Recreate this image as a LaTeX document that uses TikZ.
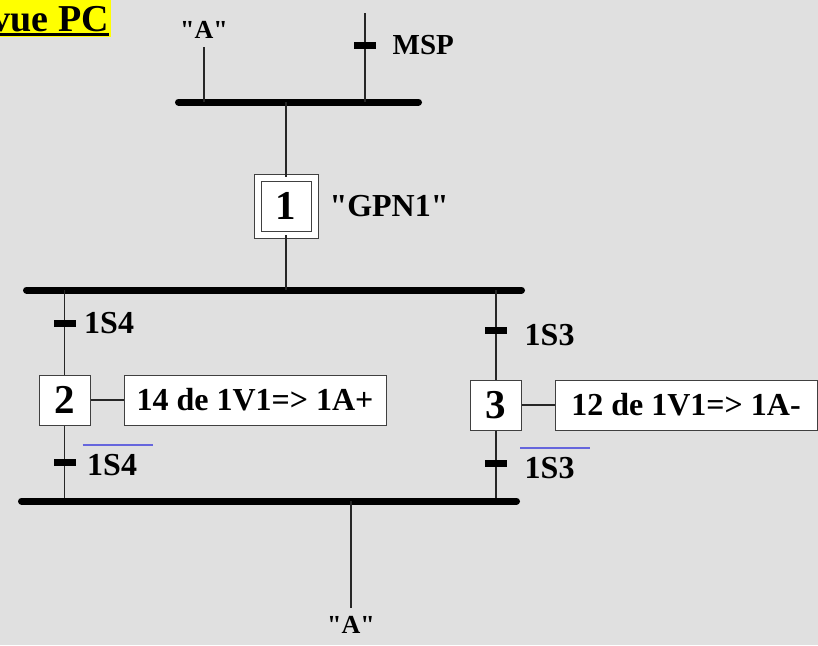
\documentclass[tikz,border=0pt]{standalone}
\usepackage{fontspec}
\setmainfont{Liberation Serif}[Ligatures=TeXOff]
\usetikzlibrary{positioning}
\definecolor{pagebg}{RGB}{224,224,224}
\definecolor{negblue}{RGB}{102,102,221}
\definecolor{titleyellow}{RGB}{255,255,0}
\newcommand{\lblfont}{\fontsize{32}{34}\selectfont\bfseries}

\begin{document}
\begin{tikzpicture}[x=1pt,y=-1pt,
  link/.style={black!85,line width=1.3pt},
  bar/.style={line width=7pt,line cap=round},
  tick/.style={rectangle,fill=black,minimum width=22pt,minimum height=7pt,inner sep=0pt},
  stepbox/.style={rectangle,draw=black!75,fill=white,line width=1pt,minimum width=51pt,minimum height=50pt,
                  inner sep=0pt,font=\fontsize{41}{41}\selectfont\bfseries},
  initstep/.style={stepbox,double=white,double distance=6pt,minimum width=57pt,minimum height=57pt},
  action/.style={rectangle,draw=black!75,fill=white,line width=1pt,minimum width=262pt,minimum height=50pt,
                 inner sep=0pt,font=\lblfont},
  lbl/.style={font=\lblfont},
  negbar/.style={negblue,line width=1.8pt}
]
\useasboundingbox (0,0) rectangle (818,645);
\fill[pagebg] (0,0) rectangle (818,645);
\clip (0,0) rectangle (818,645);

% title
\fill[titleyellow] (0,0) rectangle (111,37);
\node[anchor=base east,inner sep=0pt,font=\fontsize{38}{38}\selectfont\bfseries] (title) at (109,31) {vue PC};
\draw[line width=2.5pt] ([yshift=-3.5pt]title.base west) -- ([yshift=-3.5pt]title.base east);

% entry side
\node[font=\fontsize{26}{28}\selectfont\bfseries] (inA) at (204,30) {"A"};
\coordinate (msptop) at (365,13);
\coordinate (barA) at (204,102);
\coordinate (barM) at (365,102);
\coordinate (bar1) at (286,102);
\draw[bar] (178.5,102) -- (418.5,102);
\draw[link] (inA.south) ++(0,5) -- (barA);
\draw[link] (msptop) -- (barM);
\node[tick] (tmsp) at (365,45) {};
\node[font=\fontsize{29}{30}\selectfont\bfseries,right=13pt of tmsp] (lmsp) {MSP};

% initial step
\node[initstep] (s1) at (286,206) {1};
\node[lbl,right=11pt of s1] (gpn) {"GPN1"};
\draw[link] (bar1) -- (s1.north);

% divergence
\coordinate (bar2) at (286,290);
\coordinate (bar2l) at (64.5,290);
\coordinate (bar2r) at (496,290);
\draw[bar] (26.5,290) -- (521.5,290);
\draw[link] (s1.south) -- (bar2);

% left branch
\node[stepbox] (s2) at (64.5,400) {2};
\node[action] (a2) at (255,400) {14 de 1V1=> 1A+};
\coordinate (bar3l) at (64.5,501);
\draw[link] (bar2l) -- (s2.north);
\draw[link] (s2.south) -- (bar3l);
\draw[link] (s2.east) -- (a2.west);
\node[tick] (t21) at (64.5,323) {};
\node[lbl,right=5pt of t21] (l21) {1S4};
\node[tick] (t22) at (64.5,462) {};
\node[lbl,right=8pt of t22,yshift=-3pt] (l22) {1S4};
\draw[negbar] ([xshift=-1pt,yshift=6pt]l22.north west) -- ([xshift=12pt,yshift=6pt]l22.north east);

% right branch
\node[stepbox] (s3) at (496,405) {3};
\node[action] (a3) at (686,405) {12 de 1V1=> 1A-};
\coordinate (bar3r) at (496,501);
\draw[link] (bar2r) -- (s3.north);
\draw[link] (s3.south) -- (bar3r);
\draw[link] (s3.east) -- (a3.west);
\node[tick] (t31) at (496,330) {};
\node[lbl,right=14pt of t31,yshift=-5pt] (l31) {1S3};
\node[tick] (t32) at (496,463) {};
\node[lbl,right=14pt of t32,yshift=-5pt] (l32) {1S3};
\draw[negbar] ([xshift=-1pt,yshift=6pt]l32.north west) -- ([xshift=12pt,yshift=6pt]l32.north east);

% convergence and exit
\coordinate (bar3) at (351,501);
\draw[bar] (21.5,501) -- (516.5,501);
\node[font=\fontsize{26}{28}\selectfont\bfseries] (outA) at (351,625) {"A"};
\draw[link] (bar3) -- ([yshift=5pt]outA.north);
\end{tikzpicture}
\end{document}
